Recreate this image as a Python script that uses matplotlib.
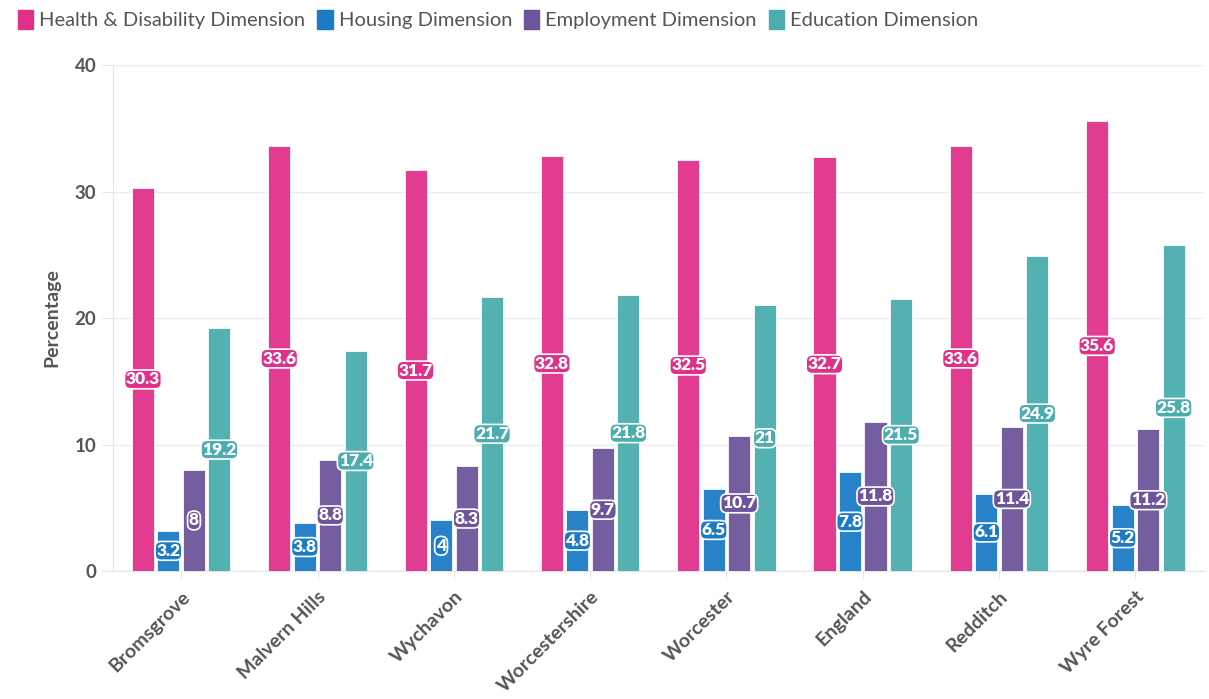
import numpy as np
import matplotlib
matplotlib.use("Agg")
import matplotlib.pyplot as plt
from matplotlib.patches import Patch

# データ
areas = ["Bromsgrove", "Malvern Hills", "Wychavon", "Worcestershire",
         "Worcester", "England", "Redditch", "Wyre Forest"]
series_names = ["Health & Disability Dimension", "Housing Dimension",
                "Employment Dimension", "Education Dimension"]
health = [30.3, 33.6, 31.7, 32.8, 32.5, 32.7, 33.6, 35.6]
housing = [3.2, 3.8, 4, 4.8, 6.5, 7.8, 6.1, 5.2]
employment = [8, 8.8, 8.3, 9.7, 10.7, 11.8, 11.4, 11.2]
education = [19.2, 17.4, 21.7, 21.8, 21, 21.5, 24.9, 25.8]
y_ticks = [0, 10, 20, 30, 40]

colors = ["#E0318A", "#1B7BC6", "#6E559B", "#4BADAD"]
text_grey = "#555555"

plt.rcParams["font.family"] = ["Lato", "DejaVu Sans"]

fig = plt.figure(figsize=(12.09, 6.99), dpi=100)
ax = fig.add_axes([0.0935, 0.183, 0.902, 0.724])

x = np.arange(len(areas))
pitch = 0.187
width = 0.162
all_series = [health, housing, employment, education]

for i, (vals, col) in enumerate(zip(all_series, colors)):
    pos = x + (i - 1.5) * pitch
    ax.bar(pos, vals, width=width, color=col, alpha=0.95,
           edgecolor="#ffffff", linewidth=0.6, zorder=3)
    for px, v in zip(pos, vals):
        ax.text(px, v / 2, f"{v:g}", ha="center", va="center",
                color="white", fontsize=12.5, fontweight="heavy", zorder=5,
                bbox=dict(boxstyle="round,pad=0.08,rounding_size=0.35",
                          facecolor=col, edgecolor="white", linewidth=1.2))

ax.set_xlim(-0.5, len(areas) - 0.5)
ax.set_ylim(0, 40)
ax.set_yticks(y_ticks)
ax.set_yticklabels([str(t) for t in y_ticks], fontsize=13.5,
                   fontweight="bold", color=text_grey)
ax.set_xticks(x)
ax.set_xticklabels(areas, rotation=45, ha="right", rotation_mode="anchor",
                   fontsize=14, fontweight="bold", color=text_grey)
ax.tick_params(axis="y", length=8, color="#e6e6e6", pad=4)
ax.tick_params(axis="x", length=6, color="#e6e6e6", pad=6)
ax.set_ylabel("Percentage", fontsize=14, fontweight="bold",
              color=text_grey, labelpad=10)

ax.grid(axis="y", color="#ececec", linewidth=1, zorder=0)
for s in ["top", "right"]:
    ax.spines[s].set_visible(False)
ax.spines["left"].set_color("#e6e6e6")
ax.spines["bottom"].set_color("#e6e6e6")

# 凡例
handles = [Patch(facecolor=c, edgecolor=c) for c in colors]
fig.legend(handles, series_names, loc="upper left", ncol=4,
           bbox_to_anchor=(0.0, 1.012), frameon=False, fontsize=14.5,
           labelcolor=text_grey, handlelength=0.75, handleheight=1.1,
           handletextpad=0.3, columnspacing=0.6)

fig.savefig("out.png", dpi=100)
